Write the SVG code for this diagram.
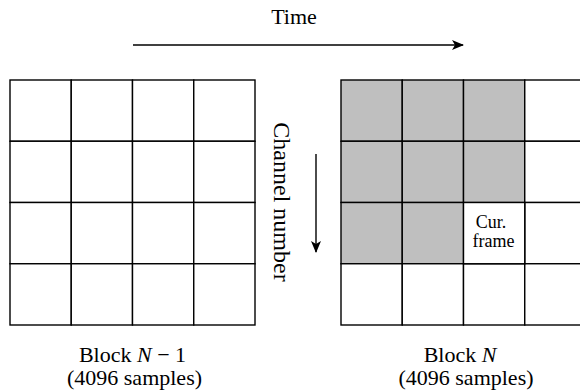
<svg xmlns="http://www.w3.org/2000/svg" width="580" height="392" viewBox="0 0 580 392">
  <style>
    .cell { fill: #ffffff; stroke: #000000; stroke-width: 1.4; }
    .past { fill: #bfbfbf; }
    .conn { fill: none; stroke: #000000; stroke-width: 1.4; }
  </style>
  <defs>
    <marker id="head" viewBox="0 0 12 10" refX="11" refY="5" markerWidth="12" markerHeight="10" markerUnits="userSpaceOnUse" orient="auto">
      <path d="M0,0 L12,5 L0,10 L3,5 z" fill="#000000"/>
    </marker>
  </defs>

  <rect width="580" height="392" fill="#ffffff"/>

  <!-- axis arrows -->
  <g id="connectors">
    <line class="conn" x1="133" y1="45" x2="463" y2="45" marker-end="url(#head)"/>
    <line class="conn" x1="316" y1="154" x2="316" y2="252" marker-end="url(#head)"/>
  </g>

  <!-- axis labels -->
  <g id="time-label">
    <text font-family="Liberation Serif" font-size="22" text-anchor="middle" x="294" y="24">Time</text>
  </g>
  <g id="channel-label">
    <text font-family="Liberation Serif" font-size="24" text-anchor="middle" transform="translate(274,202) rotate(90)" x="0" y="0">Channel number</text>
  </g>

  <!-- previous block: 4 x 4 frames -->
  <g id="block-prev">
    <rect class="cell" x="10" y="80" width="61.25" height="61.25"/>
    <rect class="cell" x="71.25" y="80" width="61.25" height="61.25"/>
    <rect class="cell" x="132.5" y="80" width="61.25" height="61.25"/>
    <rect class="cell" x="193.75" y="80" width="61.25" height="61.25"/>
    <rect class="cell" x="10" y="141.25" width="61.25" height="61.25"/>
    <rect class="cell" x="71.25" y="141.25" width="61.25" height="61.25"/>
    <rect class="cell" x="132.5" y="141.25" width="61.25" height="61.25"/>
    <rect class="cell" x="193.75" y="141.25" width="61.25" height="61.25"/>
    <rect class="cell" x="10" y="202.5" width="61.25" height="61.25"/>
    <rect class="cell" x="71.25" y="202.5" width="61.25" height="61.25"/>
    <rect class="cell" x="132.5" y="202.5" width="61.25" height="61.25"/>
    <rect class="cell" x="193.75" y="202.5" width="61.25" height="61.25"/>
    <rect class="cell" x="10" y="263.75" width="61.25" height="61.25"/>
    <rect class="cell" x="71.25" y="263.75" width="61.25" height="61.25"/>
    <rect class="cell" x="132.5" y="263.75" width="61.25" height="61.25"/>
    <rect class="cell" x="193.75" y="263.75" width="61.25" height="61.25"/>
    <text font-family="Liberation Serif" font-size="22" text-anchor="middle" x="132.5" y="362">Block <tspan font-style="italic">N</tspan> − 1</text>
    <text font-family="Liberation Serif" font-size="22" text-anchor="middle" x="134.5" y="385">(4096 samples)</text>
  </g>

  <!-- current block: processed frames shaded -->
  <g id="block-cur">
    <rect class="cell past" x="341" y="80" width="61.25" height="61.25"/>
    <rect class="cell past" x="402.25" y="80" width="61.25" height="61.25"/>
    <rect class="cell past" x="463.5" y="80" width="61.25" height="61.25"/>
    <rect class="cell" x="524.75" y="80" width="61.25" height="61.25"/>
    <rect class="cell past" x="341" y="141.25" width="61.25" height="61.25"/>
    <rect class="cell past" x="402.25" y="141.25" width="61.25" height="61.25"/>
    <rect class="cell past" x="463.5" y="141.25" width="61.25" height="61.25"/>
    <rect class="cell" x="524.75" y="141.25" width="61.25" height="61.25"/>
    <rect class="cell past" x="341" y="202.5" width="61.25" height="61.25"/>
    <rect class="cell past" x="402.25" y="202.5" width="61.25" height="61.25"/>
    <rect class="cell" x="524.75" y="202.5" width="61.25" height="61.25"/>
    <rect class="cell" x="341" y="263.75" width="61.25" height="61.25"/>
    <rect class="cell" x="402.25" y="263.75" width="61.25" height="61.25"/>
    <rect class="cell" x="463.5" y="263.75" width="61.25" height="61.25"/>
    <rect class="cell" x="524.75" y="263.75" width="61.25" height="61.25"/>
    <text font-family="Liberation Serif" font-size="22" text-anchor="middle" x="460" y="362">Block <tspan font-style="italic">N</tspan></text>
    <text font-family="Liberation Serif" font-size="22" text-anchor="middle" x="466" y="385">(4096 samples)</text>
  </g>

  <!-- frame being processed -->
  <g id="current-frame">
    <rect class="cell" x="463.5" y="202.5" width="61.25" height="61.25"/>
    <text font-family="Liberation Serif" font-size="18" text-anchor="middle" x="491" y="228">Cur.</text>
    <text font-family="Liberation Serif" font-size="18" text-anchor="middle" x="493.5" y="246.5">frame</text>
  </g>
</svg>
